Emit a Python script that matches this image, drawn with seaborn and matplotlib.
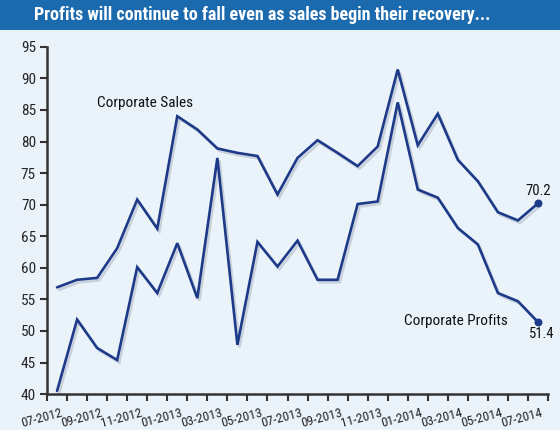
import matplotlib
matplotlib.use("Agg")
import matplotlib.pyplot as plt
import matplotlib.patheffects as pe
from matplotlib import font_manager
from matplotlib.patches import Rectangle
import pandas as pd
import seaborn as sns

months = ["07-2012", "08-2012", "09-2012", "10-2012", "11-2012", "12-2012",
          "01-2013", "02-2013", "03-2013", "04-2013", "05-2013", "06-2013",
          "07-2013", "08-2013", "09-2013", "10-2013", "11-2013", "12-2013",
          "01-2014", "02-2014", "03-2014", "04-2014", "05-2014", "06-2014",
          "07-2014"]
sales = [56.9, 58.1, 58.4, 63.1, 70.8, 66.2, 84.0, 81.9, 78.9, 78.2, 77.7, 71.6,
         77.4, 80.2, 78.2, 76.1, 79.2, 91.4, 79.4, 84.4, 77.1, 73.7, 68.8, 67.5,
         70.2]
profits = [40.5, 51.8, 47.3, 45.4, 60.1, 56.0, 63.9, 55.2, 77.4, 47.8, 64.1, 60.2,
           64.3, 58.1, 58.1, 70.1, 70.5, 86.2, 72.4, 71.1, 66.3, 63.7, 56.0, 54.7,
           51.4]
title = "Profits will continue to fall even as sales begin their recovery..."

navy = "#1c3a88"
bg = "#eaf2fa"

sns.set_style("ticks")

# pick a narrow font if one is around
names = {f.name for f in font_manager.fontManager.ttflist}
narrow = None
for cand in ["Roboto Condensed", "Liberation Sans Narrow", "Open Sans Condensed",
             "DejaVu Sans Condensed"]:
    if cand in names:
        narrow = cand
        break
if narrow is None:
    narrow = "DejaVu Sans"
    plt.rcParams["font.stretch"] = "condensed"
plt.rcParams["font.family"] = [narrow, "DejaVu Sans"]

df = pd.DataFrame({"idx": range(len(months)), "month": months,
                   "sales": sales, "profits": profits})

fig = plt.figure(figsize=(5.6, 4.3), dpi=100, facecolor=bg)
ax = fig.add_axes([0.084, 0.0835, 0.8946, 0.8077])
ax.set_facecolor(bg)

shadow = [pe.SimpleLineShadow(offset=(1.5, -1.8), shadow_color="#8a94a3", alpha=0.35),
          pe.Normal()]
for col in ["sales", "profits"]:
    sns.lineplot(data=df, x="idx", y=col, ax=ax, color=navy, linewidth=1.9)
for ln in ax.lines:
    ln.set_path_effects(shadow)
    ln.set_solid_joinstyle("miter")

last = len(months) - 1
ax.scatter([last, last], [sales[-1], profits[-1]], s=22, color=navy, zorder=5)

ax.set_xlim(-0.5, len(months) - 0.5)
ax.set_ylim(40, 95)
ax.set_yticks(range(40, 96, 5))
ax.tick_params(axis="y", labelsize=11, length=5, width=1.5, color="#333333", pad=3)

ax.set_xticks([i - 0.5 for i in range(len(months) + 1)], minor=True)
ax.set_xticks([i + 0.15 for i in range(0, len(months), 2)])
ax.set_xticklabels(months[::2], rotation=15, ha="right", va="top",
                   rotation_mode="anchor", fontsize=9.5)
ax.tick_params(axis="x", which="major", length=0, pad=9)
ax.tick_params(axis="x", which="minor", length=5, width=1.5, color="#333333")
ax.set_xlabel("")
ax.set_ylabel("")

for s in ["top", "right"]:
    ax.spines[s].set_visible(False)
for s in ["left", "bottom"]:
    ax.spines[s].set_color("#333333")
    ax.spines[s].set_linewidth(1.8)

ax.text(2.0, 86.1, "Corporate Sales", fontsize=11, va="center", ha="left", color="#111111")
ax.text(17.3, 51.5, "Corporate Profits", fontsize=11, va="center", ha="left", color="#111111")
ax.text(last, sales[-1] + 0.9, f"{sales[-1]:.1f}", fontsize=10.5, ha="center",
        va="bottom", color="#111111", clip_on=False)
ax.text(last + 0.2, profits[-1] - 0.7, f"{profits[-1]:.1f}", fontsize=10.5, ha="center",
        va="top", color="#111111", clip_on=False)

# title band
fig.patches.append(Rectangle((0, 1 - 30 / 430), 1, 30 / 430, transform=fig.transFigure,
                             facecolor="#1b6aae", edgecolor="none", zorder=0))
fig.text(0.468, 1 - 15 / 430, title, color="white", fontsize=13, fontweight="bold",
         ha="center", va="center")

fig.savefig("out.png", dpi=100, facecolor=bg)
